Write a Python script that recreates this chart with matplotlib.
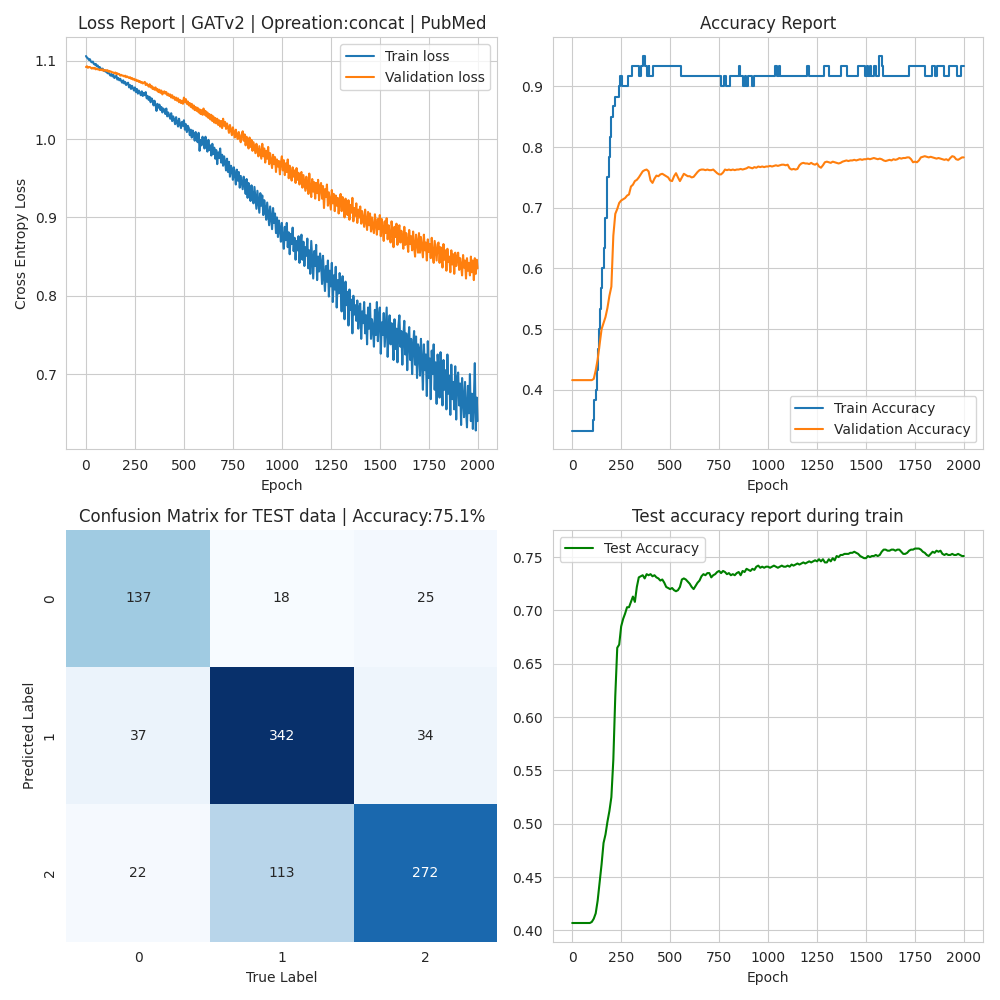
import numpy as np
import matplotlib
matplotlib.use("Agg")
import matplotlib.pyplot as plt
import seaborn as sns

train_loss = [
1.106,1.104,1.103,1.101,1.102,1.099,1.098,1.099,1.096,1.095,1.096,1.093,1.094,1.091,1.092,1.090,1.089,1.090,1.087,1.088,
1.086,1.087,1.084,1.085,1.083,1.081,1.083,1.080,1.082,1.078,1.079,1.081,1.076,1.078,1.075,1.077,1.074,1.072,1.075,1.071,
1.073,1.069,1.071,1.072,1.066,1.069,1.064,1.068,1.065,1.062,1.066,1.060,1.064,1.058,1.062,1.059,1.056,1.061,1.055,1.059,
1.056,1.060,1.052,1.055,1.050,1.054,1.047,1.052,1.049,1.043,1.049,1.044,1.036,1.045,1.040,1.044,1.037,1.041,1.034,1.039,
1.037,1.032,1.039,1.029,1.034,1.030,1.026,1.033,1.023,1.029,1.025,1.019,1.028,1.021,1.016,1.026,1.019,1.014,1.022,1.017,
1.024,1.012,1.019,1.009,1.017,1.014,1.005,1.012,1.002,1.011,1.006,.998,1.009,1.001,.996,1.008,.985,.999,.992,1.003,
.997,.988,1.003,.991,.984,.999,.986,.992,.979,.994,.981,.989,.975,.986,.968,.983,.976,.988,.970,.980,
.966,.978,.971,.960,.975,.958,.971,.952,.966,.962,.948,.964,.955,.942,.961,.947,.958,.938,.953,.944,
.936,.952,.943,.930,.949,.925,.944,.937,.921,.941,.928,.918,.939,.925,.911,.934,.920,.906,.931,.915,
.928,.903,.922,.912,.897,.919,.904,.890,.914,.899,.885,.912,.893,.905,.880,.900,.875,.896,.886,.869,
.893,.874,.860,.888,.871,.893,.862,.881,.853,.879,.866,.887,.857,.874,.846,.870,.858,.876,.842,.866,
.878,.846,.869,.838,.862,.851,.873,.835,.858,.828,.870,.845,.822,.857,.838,.865,.820,.850,.831,.854,
.842,.815,.851,.825,.806,.838,.818,.845,.799,.832,.812,.842,.792,.826,.808,.837,.785,.820,.803,.829,
.812,.780,.825,.795,.770,.818,.788,.805,.762,.808,.782,.795,.752,.800,.776,.788,.768,.794,.758,.785,
.790,.745,.780,.765,.792,.752,.775,.738,.785,.758,.790,.745,.770,.760,.735,.782,.750,.792,.742,.772,
.785,.726,.766,.750,.778,.735,.760,.785,.722,.755,.775,.738,.765,.745,.718,.770,.732,.758,.715,.762,
.775,.735,.755,.712,.748,.768,.725,.752,.705,.742,.760,.718,.745,.700,.735,.755,.712,.748,.695,.738,
.732,.698,.745,.715,.680,.738,.705,.725,.672,.742,.695,.720,.668,.730,.700,.738,.680,.715,.662,.725,
.705,.670,.728,.690,.660,.718,.680,.705,.655,.725,.675,.698,.648,.712,.668,.690,.655,.710,.642,.695,
.702,.660,.688,.635,.695,.668,.645,.690,.655,.632,.685,.650,.700,.640,.675,.630,.665,.714,.628,.670,
.640]

val_loss = [
1.092,1.093,1.091,1.092,1.092,1.091,1.090,1.091,1.090,1.091,1.089,1.090,1.089,1.089,1.088,1.089,1.088,1.089,1.087,1.088,
1.088,1.087,1.088,1.086,1.087,1.086,1.086,1.085,1.085,1.084,1.085,1.083,1.084,1.083,1.083,1.081,1.082,1.081,1.081,1.080,
1.081,1.079,1.080,1.079,1.078,1.079,1.077,1.078,1.076,1.077,1.075,1.076,1.074,1.075,1.073,1.074,1.072,1.073,1.071,1.072,
1.073,1.069,1.071,1.069,1.067,1.070,1.066,1.068,1.064,1.066,1.063,1.066,1.062,1.064,1.060,1.063,1.059,1.062,1.057,1.060,
1.061,1.058,1.060,1.056,1.058,1.055,1.057,1.053,1.056,1.052,1.054,1.050,1.053,1.049,1.052,1.047,1.050,1.046,1.049,1.045,
1.053,1.047,1.051,1.045,1.048,1.043,1.046,1.041,1.045,1.039,1.043,1.037,1.041,1.036,1.040,1.034,1.038,1.032,1.037,1.031,
1.039,1.031,1.036,1.029,1.034,1.027,1.032,1.025,1.031,1.023,1.029,1.021,1.027,1.020,1.026,1.018,1.024,1.016,1.023,1.014,
1.026,1.017,1.022,1.013,1.020,1.015,1.008,1.018,1.011,1.005,1.015,1.008,1.002,1.012,1.004,1.000,1.009,1.002,.996,1.006,
1.010,.998,1.006,.992,1.003,.996,.988,1.002,.990,.999,.985,.996,.989,.982,.994,.985,.978,.991,.983,.975,
.994,.978,.988,.970,.985,.975,.990,.968,.982,.972,.963,.980,.968,.977,.958,.974,.965,.972,.955,.970,
.978,.960,.973,.954,.969,.958,.974,.950,.966,.955,.947,.964,.952,.960,.944,.963,.948,.957,.942,.955,
.958,.938,.954,.944,.934,.952,.940,.930,.956,.936,.926,.949,.933,.945,.924,.944,.931,.948,.922,.940,
.944,.924,.940,.912,.936,.926,.942,.915,.932,.921,.910,.935,.918,.930,.908,.928,.915,.925,.905,.923,
.930,.908,.926,.915,.900,.924,.910,.903,.922,.897,.916,.906,.925,.895,.912,.902,.918,.893,.910,.900,
.914,.892,.908,.898,.888,.910,.895,.884,.907,.890,.905,.882,.900,.887,.880,.904,.892,.878,.898,.885,
.903,.876,.898,.885,.870,.895,.880,.899,.872,.890,.877,.868,.895,.882,.862,.888,.875,.892,.865,.884,
.890,.868,.883,.873,.860,.888,.865,.880,.870,.856,.884,.866,.876,.858,.882,.863,.850,.878,.868,.855,
.880,.855,.875,.862,.849,.878,.858,.868,.845,.872,.856,.866,.848,.874,.852,.842,.870,.858,.845,.866,
.868,.842,.862,.852,.836,.866,.846,.858,.832,.860,.843,.850,.830,.858,.840,.853,.828,.855,.838,.848,
.855,.833,.848,.838,.826,.852,.836,.845,.822,.848,.832,.842,.826,.850,.830,.845,.820,.848,.828,.846,
.835]

train_acc_epochs = [
0,108,112,120,126,132,136,140,146,150,160,166,176,180,188,195,200,208,216,238,245,252,
286,306,340,350,362,371,381,390,394,400,413,554,760,774,787,804,854,859,874,882,888,895,
918,927,1037,1044,1054,1061,1200,1207,1288,1309,1372,1403,1459,1497,1503,1510,1518,1526,
1540,1550,1568,1582,1587,1718,1800,1838,1851,1862,1896,1922,1965,1985,1999]
train_acc = [
.333,.350,.383,.400,.433,.467,.500,.533,.567,.600,.633,.683,.717,.750,.783,.817,.850,.867,.883,.900,.917,.900,
.917,.933,.917,.933,.950,.933,.917,.933,.917,.917,.933,.917,.900,.917,.900,.917,.933,.917,.900,.917,.900,.917,
.900,.917,.933,.917,.933,.917,.933,.917,.933,.917,.933,.917,.933,.917,.933,.917,.933,.917,
.933,.917,.950,.933,.917,.933,.917,.933,.917,.933,.917,.933,.917,.933,.933]

val_acc = [
.416,.416,.416,.416,.416,.416,.416,.416,.416,.416,
.416,.418,.432,.450,.475,.500,.510,.520,.535,.555,
.570,.654,.690,.698,.708,.712,.714,.716,.720,.722,
.735,.738,.744,.746,.750,.755,.760,.762,.763,.760,
.745,.741,.748,.753,.752,.755,.756,.754,.752,.750,
.745,.744,.752,.757,.750,.744,.750,.756,.754,.752,
.752,.750,.751,.755,.759,.762,.763,.763,.762,.763,
.762,.762,.763,.760,.757,.755,.755,.758,.763,.762,
.763,.762,.763,.762,.763,.763,.764,.763,.764,.765,
.767,.766,.765,.767,.766,.768,.767,.768,.767,.768,
.768,.769,.768,.769,.770,.769,.770,.771,.771,.770,
.771,.765,.763,.764,.763,.764,.770,.773,.774,.773,
.773,.772,.774,.772,.771,.773,.768,.766,.770,.775,
.776,.775,.774,.776,.775,.774,.773,.774,.776,.777,
.778,.777,.778,.778,.779,.778,.779,.780,.779,.780,
.780,.781,.780,.781,.782,.781,.780,.781,.780,.778,
.777,.778,.779,.778,.780,.779,.780,.782,.781,.782,
.782,.783,.783,.780,.775,.776,.775,.778,.783,.784,
.785,.784,.783,.784,.783,.782,.781,.782,.781,.780,
.779,.780,.778,.782,.785,.784,.780,.779,.781,.783,
.783]

test_acc = [
.407,.407,.407,.407,.407,.407,.407,.407,.407,.407,
.408,.411,.416,.428,.445,.462,.482,.490,.502,.512,
.525,.560,.620,.665,.668,.685,.692,.697,.703,.703,
.708,.713,.708,.722,.731,.732,.733,.730,.734,.733,
.734,.732,.733,.731,.730,.728,.729,.726,.722,.721,
.720,.721,.719,.718,.719,.722,.729,.730,.729,.727,
.725,.722,.720,.723,.726,.728,.732,.734,.733,.735,
.735,.731,.733,.734,.736,.737,.735,.737,.736,.734,
.735,.733,.734,.733,.735,.736,.733,.737,.736,.739,
.738,.737,.739,.738,.741,.742,.740,.741,.740,.741,
.741,.740,.741,.742,.741,.740,.741,.742,.741,.741,
.742,.741,.743,.742,.743,.744,.743,.744,.745,.744,
.745,.746,.745,.746,.747,.746,.748,.746,.748,.745,
.745,.748,.746,.749,.747,.751,.750,.752,.752,.753,
.753,.753,.754,.754,.755,.754,.753,.751,.750,.749,
.749,.751,.750,.751,.751,.752,.751,.752,.755,.757,
.757,.756,.756,.757,.757,.756,.757,.757,.755,.753,
.753,.754,.756,.757,.757,.758,.758,.758,.757,.755,
.754,.752,.751,.753,.755,.754,.756,.755,.756,.753,
.752,.753,.752,.752,.753,.752,.752,.753,.752,.751,
.751]

confusion = [[137, 18, 25], [37, 342, 34], [22, 113, 272]]

last_epoch = 1999
loss_epochs = np.minimum(np.arange(len(train_loss)) * 5, last_epoch)
acc_epochs = np.minimum(np.arange(len(val_acc)) * 10, last_epoch)

sns.set_style("whitegrid")
fig, axes = plt.subplots(2, 2, figsize=(10, 10), dpi=100)

ax = axes[0, 0]
ax.plot(loss_epochs, train_loss, label="Train loss")
ax.plot(loss_epochs, val_loss, label="Validation loss")
ax.set_title("Loss Report | GATv2 | Opreation:concat | PubMed")
ax.set_xlabel("Epoch")
ax.set_ylabel("Cross Entropy Loss")
ax.legend(loc="upper right")

ax = axes[0, 1]
ax.plot(train_acc_epochs, train_acc, drawstyle="steps-post", label="Train Accuracy")
ax.plot(acc_epochs, val_acc, label="Validation Accuracy")
ax.set_title("Accuracy Report")
ax.set_xlabel("Epoch")
ax.legend(loc="lower right")

ax = axes[1, 0]
sns.heatmap(confusion, annot=True, fmt="d", cmap="Blues", cbar=False, ax=ax)
ax.set_title("Confusion Matrix for TEST data | Accuracy:75.1%")
ax.set_xlabel("True Label")
ax.set_ylabel("Predicted Label")

ax = axes[1, 1]
ax.plot(acc_epochs, test_acc, color="green", label="Test Accuracy")
ax.set_title("Test accuracy report during train")
ax.set_xlabel("Epoch")
ax.legend(loc="upper left")

fig.tight_layout()
fig.savefig("out.png", dpi=100)
